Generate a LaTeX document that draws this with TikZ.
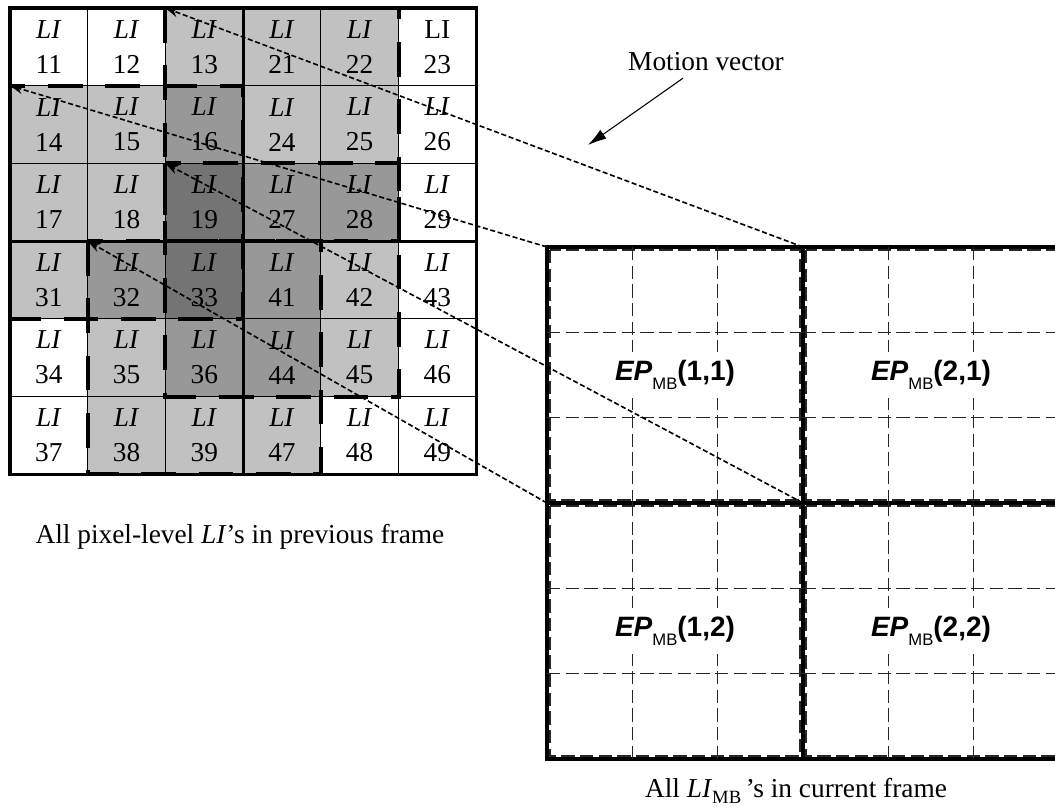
\documentclass[tikz,border=0pt]{standalone}
\usepackage{fontspec}
\setmainfont{Liberation Serif}
\newfontfamily\epfont{Liberation Sans}
\usetikzlibrary{positioning,arrows.meta,calc}
\definecolor{lev0}{RGB}{255,255,255}
\definecolor{lev1}{RGB}{193,193,193}
\definecolor{lev2}{RGB}{152,152,152}
\definecolor{lev3}{RGB}{116,116,116}
\newcommand{\EPmb}[1]{{\epfont\bfseries\itshape EP}\raisebox{-0.32em}{\epfont\fontsize{12.5}{12.5}\selectfont MB}{\epfont\bfseries(#1)}}

\begin{document}
\begin{tikzpicture}[x=0.75pt,y=-0.75pt,>=Stealth,
  cell/.style={draw,line width=0.9pt,minimum size=58.3pt,inner sep=0pt,outer sep=0pt,align=center,font=\fontsize{20.5}{26.25}\selectfont},
  mb/.style={draw,line width=3pt,minimum size=192pt,inner sep=0pt,outer sep=0pt},
  subgrid/.style={line width=0.8pt,black!85,dash pattern=on 10pt off 4pt},
  blockline/.style={line width=3pt,dash pattern=on 26pt off 17pt},
  mvline/.style={line width=1.2pt,dash pattern=on 3.8pt off 2pt,-{Stealth[length=10pt,width=7pt]}},
  eplabel/.style={fill=white,inner xsep=2pt,inner ysep=6pt,font=\fontsize{21}{21}\selectfont},
  caption/.style={anchor=base,font=\fontsize{20.5}{24}\selectfont}]
  \useasboundingbox (0,0) rectangle (1055,811);
  \foreach \num/\lev [count=\i from 0] in {11/0,12/0,13/1,21/1,22/1,23/0,
      14/1,15/1,16/2,24/1,25/1,26/0, 17/1,18/1,19/3,27/2,28/2,29/0,
      31/1,32/2,33/3,41/2,42/1,43/0, 34/0,35/1,36/2,44/2,45/1,46/0,
      37/0,38/1,39/1,47/1,48/0,49/0}{
    \pgfmathtruncatemacro\col{mod(\i,6)}
    \pgfmathtruncatemacro\row{div(\i,6)}
    \node[cell,fill=lev\lev] (c\num) at ({10+77.7*(\col+0.5)},{8+77.7*(\row+0.5)})
      {\ifnum\num=23 LI\else\textit{LI}\fi\\\num};
  }
  \draw[blockline] (c14.north west) rectangle (c33.south east);
  \draw[blockline] (c13.north west) rectangle (c28.south east);
  \draw[blockline] (c19.north west) rectangle (c45.south east);
  \draw[blockline] (c32.north west) rectangle (c47.south east);
  \draw[line width=2.5pt] (c11.north west) rectangle (c49.south east);
  \draw[line width=2.2pt] (c21.north west) -- (c47.south west);
  \draw[line width=2.2pt] (c31.north west) -- (c43.north east);

  \node[mb] (ep11) at (675,375) {};
  \node[mb,right=0pt of ep11] (ep21) {};
  \node[mb,below=0pt of ep11] (ep12) {};
  \node[mb,below=0pt of ep21] (ep22) {};
  \foreach \m in {ep11,ep21,ep12,ep22}{
    \draw[subgrid] ($(\m.north west)+(3,3)$) rectangle ($(\m.south east)+(-3,-3)$);
    \draw[subgrid] ($(\m.north west)!1/3!(\m.north east)$) -- ($(\m.south west)!1/3!(\m.south east)$);
    \draw[subgrid] ($(\m.north west)!2/3!(\m.north east)$) -- ($(\m.south west)!2/3!(\m.south east)$);
    \draw[subgrid] ($(\m.north west)!1/3!(\m.south west)$) -- ($(\m.north east)!1/3!(\m.south east)$);
    \draw[subgrid] ($(\m.north west)!2/3!(\m.south west)$) -- ($(\m.north east)!2/3!(\m.south east)$);
  }
  \node[eplabel] (lab11) at (ep11) {\EPmb{1,1}};
  \node[eplabel] (lab21) at (ep21) {\EPmb{2,1}};
  \node[eplabel] (lab12) at (ep12) {\EPmb{1,2}};
  \node[eplabel] (lab22) at (ep22) {\EPmb{2,2}};

  \draw[mvline] (ep11.north west) -- (c14.north west);
  \draw[mvline] (ep21.north west) -- (c13.north west);
  \draw[mvline] (ep22.north west) -- (c19.north west);
  \draw[mvline] (ep12.north west) -- (c32.north west);

  \node[font=\fontsize{20.5}{24}\selectfont,inner sep=5pt] (mvlabel) at (706,62) {Motion vector};
  \coordinate (mvtip) at (588,145);
  \draw[line width=0.8pt,-{Latex[length=14pt,width=8pt]}] (mvlabel) -- (mvtip);

  \node[caption] (capprev) at (240,543) {All pixel-level \textit{LI}'s in previous frame};
  \node[caption] (capcur) at (796,797) {All \textit{LI}\raisebox{-0.25em}{\fontsize{14}{14}\selectfont MB}\,'s in current frame};
\end{tikzpicture}
\end{document}
